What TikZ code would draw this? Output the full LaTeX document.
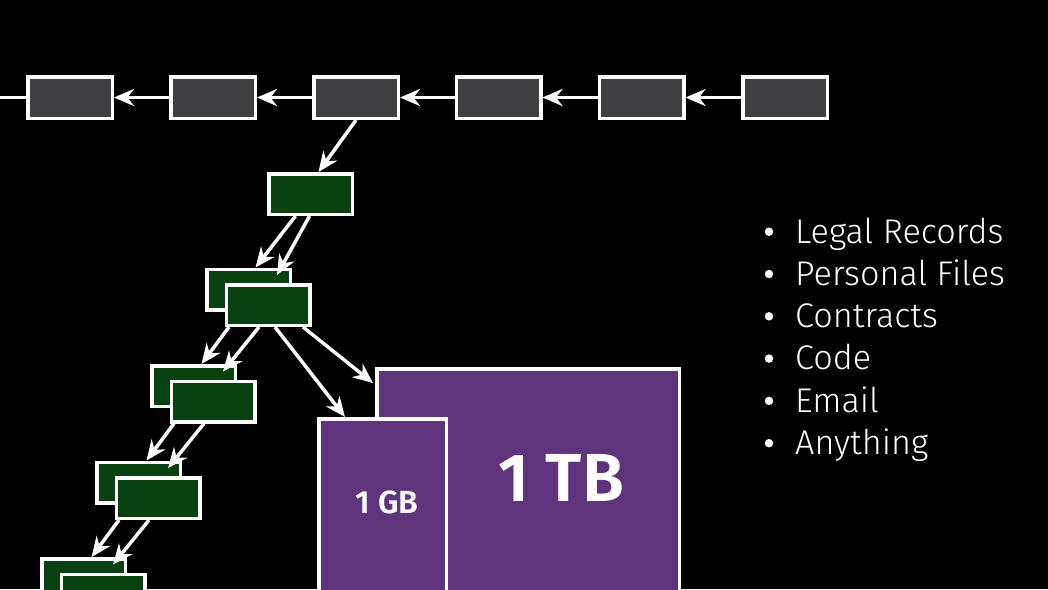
\documentclass[tikz,border=0pt]{standalone}
\usepackage{fontspec}
\setmainfont{Fira Sans}
\newfontfamily\listfont{Fira Sans Light}
\newfontfamily\sizefont{Fira Sans SemiBold}
\usetikzlibrary{arrows.meta,calc}

\definecolor{chaingray}{RGB}{64,64,66}
\definecolor{treegreen}{RGB}{9,65,16}
\definecolor{storepurple}{RGB}{95,52,125}

\begin{document}
\begin{tikzpicture}[x=1pt,y=-1pt,
  edge/.style={draw=white, line width=3.5pt},
  arr/.style={edge, -{Stealth[length=20pt,width=17pt,inset=6.5pt]}},
  chainbox/.style={draw=white, line width=3.5pt, fill=chaingray,
    minimum width=84.5pt, minimum height=41.5pt, inner sep=0pt},
  treebox/.style={draw=white, line width=3.5pt, fill=treegreen,
    minimum width=83.5pt, minimum height=40.5pt, inner sep=0pt},
  storebox/.style={draw=white, line width=3.5pt, fill=storepurple,
    inner sep=0pt, anchor=north west},
  sizelabel/.style={text=white, inner sep=0pt},
  itemtext/.style={anchor=base west, text=white, inner sep=0pt,
    font=\listfont\fontsize{34.2}{34.2}\selectfont},
  itemdot/.style={circle, fill=white, minimum size=8.5pt, inner sep=0pt},
]
\useasboundingbox (0,0) rectangle (1048,589);
\clip (0,0) rectangle (1048,589);
\fill[black] (0,0) rectangle (1048,589);

% chain of blocks along the top
\foreach \i/\x in {1/70,2/213,3/356,4/498.5,5/641.5,6/785}
  \node[chainbox] (c\i) at (\x,97.5) {};
\coordinate (cin) at (0,97.5);
\draw[edge] (cin) -- (c1.west);
\foreach \i/\j in {2/1,3/2,4/3,5/4,6/5}
  \draw[arr] (c\i.west) -- (c\j.east);

% tree hanging off the third block
\node[treebox] (g0) at (310.5,194) {};
\foreach \k in {0,1,2,3} {
  \node[treebox] (b\k) at ({248.5-55*\k},{289.5+96.5*\k}) {};
  \node[treebox] (f\k) at ($(b\k)+(19.5,15.5)$) {};
}

% storage blocks
\node[storebox, minimum width=302.5pt, minimum height=330pt] (tb) at (375,367) {};
\node[storebox, minimum width=127.5pt, minimum height=300pt] (gb) at (317,417) {};
\node[sizelabel, font=\sizefont\fontsize{68}{68}\selectfont] (tbl) at (561,478) {1 TB};
\node[sizelabel, font=\sizefont\fontsize{32}{32}\selectfont] (gbl) at (387,502.5) {1 GB};

% links
\draw[arr] (c3.south) -- ($(g0.north)+(8,0)$);
\draw[arr] ($(g0.south)+(-15,0)$) -- ($(b0.north)+(7,0)$);
\draw[arr] ($(g0.south)+(-1,0)$) -- ($(f0.north)+(9,-8)$);
\foreach \k/\n in {0/1,1/2,2/3} {
  \draw[arr] ($(f\k.south)+(-39,0)$) -- ($(b\n.north)+(8,0)$);
  \draw[arr] ($(f\k.south)+(-9,0)$) -- ($(f\n.north)+(10,-8)$);
}
\draw[arr] ($(f0.south)+(7,0)$) -- ($(gb.north west)+(28,0)$);
\draw[arr] ($(f0.south)+(35,0)$) -- ($(tb.north west)+(-2,16)$);

% list of contents
\foreach \t [count=\i] in {Legal Records, Personal Files, Contracts, Code, Email, Anything} {
  \node[itemtext] (item\i) at (795,{243+42.3*(\i-1)}) {\t};
  \node[itemdot] (dot\i) at ($(item\i.base west)+(-26,-11.3)$) {};
}
\end{tikzpicture}
\end{document}
